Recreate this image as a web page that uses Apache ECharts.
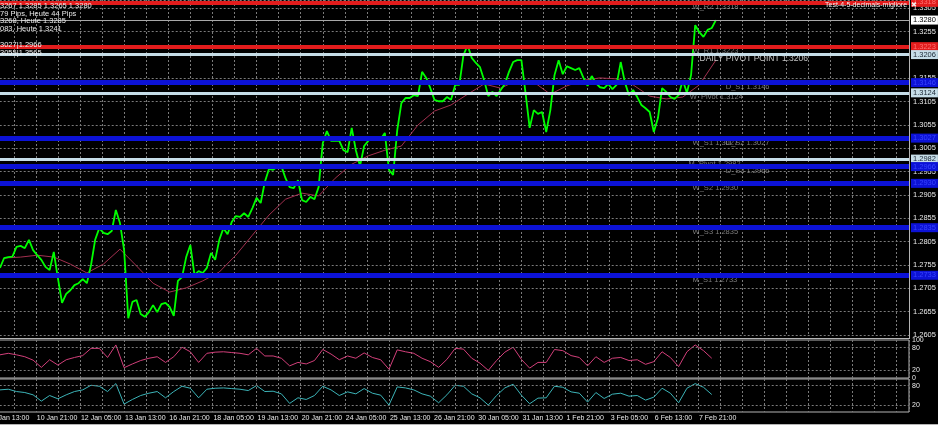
<!DOCTYPE html>
<html><head><meta charset="utf-8">
<script src="https://cdn.jsdelivr.net/npm/echarts@6/dist/echarts.min.js"></script>
<style>html,body{margin:0;padding:0;background:#000;}#c{width:938px;height:425px;}</style>
</head><body><div id="c"></div>
<script>
// ---------------- DATA ----------------
// hourly bars; bar 0 = 9 Jan 13:00
const timeLabels = ["9 Jan 13:00","10 Jan 21:00","12 Jan 05:00","13 Jan 13:00","16 Jan 21:00","18 Jan 05:00","19 Jan 13:00","20 Jan 21:00","24 Jan 05:00","25 Jan 13:00","26 Jan 21:00","30 Jan 05:00","31 Jan 13:00","1 Feb 21:00","3 Feb 05:00","6 Feb 13:00","7 Feb 21:00"];
const LABEL_EVERY = 32;
const BAR_MAX = 665;

// close prices, one every 3 bars starting at bar 6
const PRICE_FIRST_BAR = 6, PRICE_STEP = 3;
const closePrices = [
1.2749,1.2770,1.2772,1.2773,1.2794,1.2796,1.2791,1.2809,1.2787,1.2776,
1.2766,1.2751,1.2744,1.2783,1.2727,1.2674,1.2693,1.2701,1.2712,1.2716,
1.2725,1.2716,1.2755,1.2809,1.2834,1.2824,1.2821,1.2828,1.2873,1.2845,
1.2787,1.2641,1.2676,1.2680,1.2650,1.2644,1.2654,1.2669,1.2654,1.2671,
1.2674,1.2665,1.2646,1.2721,1.2729,1.2772,1.2798,1.2734,1.2742,1.2738,
1.2749,1.2781,1.2766,1.2809,1.2834,1.2821,1.2847,1.2860,1.2858,1.2866,
1.2858,1.2877,1.2899,1.2888,1.2933,1.2961,1.2959,1.2965,1.2967,1.2941,
1.2922,1.2920,1.2937,1.2894,1.2890,1.2901,1.2896,1.2922,1.3016,1.3042,
1.3021,1.3021,1.3021,1.3001,1.2997,1.3049,1.3001,1.2967,1.3010,1.3021,
1.3029,1.3025,1.3025,1.3038,1.2959,1.2948,1.3044,1.3102,1.3113,1.3113,
1.3119,1.3117,1.3169,1.3156,1.3134,1.3109,1.3106,1.3106,1.3115,1.3109,
1.3141,1.3141,1.3205,1.3226,1.3199,1.3188,1.3179,1.3151,1.3117,1.3126,
1.3117,1.3130,1.3143,1.3169,1.3190,1.3194,1.3194,1.3124,1.3049,1.3087,
1.3079,1.3083,1.3040,1.3087,1.3162,1.3194,1.3164,1.3181,1.3177,1.3173,
1.3177,1.3156,1.3139,1.3160,1.3145,1.3136,1.3134,1.3143,1.3132,1.3141,
1.3190,1.3147,1.3119,1.3130,1.3115,1.3098,1.3091,1.3083,1.3040,1.3070,
1.3134,1.3126,1.3115,1.3111,1.3119,1.3151,1.3124,1.3162,1.3269,1.3254,
1.3244,1.3259,1.3263,1.3280];

// moving average, one every 12 bars starting at bar 9
const MA_FIRST_BAR = 9, MA_STEP = 12;
const maValues = [
1.2770,1.2772,1.2776,1.2772,1.2757,1.2738,1.2757,1.2789,1.2753,1.2716,
1.2697,1.2706,1.2721,1.2740,1.2776,1.2819,1.2862,1.2896,1.2909,1.2903,
1.2941,1.2971,1.2989,1.3001,1.3010,1.3055,1.3085,1.3098,1.3121,1.3143,
1.3134,1.3151,1.3147,1.3121,1.3139,1.3151,1.3156,1.3154,1.3141,1.3117,
1.3111,1.3115,1.3141,1.3194];

// oscillators, one every 6 bars starting at bar 6
const OSC_FIRST_BAR = 6, OSC_STEP = 6;
const oscPink = [61,65,61,56,47,28,48,34,48,54,59,78,78,54,87,27,37,46,52,56,
41,56,81,69,41,65,68,69,67,65,61,78,58,58,52,32,41,37,46,75,
63,48,58,52,66,54,48,23,74,69,65,52,43,28,49,78,76,52,39,20,
46,68,81,49,26,41,41,75,72,59,54,32,56,41,52,54,46,48,36,43,
69,54,30,69,87,72,52];
const oscCyan = [67,69,62,59,52,33,50,40,52,62,67,81,78,62,86,24,38,50,57,62,
43,62,78,72,43,69,72,73,71,69,65,80,62,63,55,26,43,38,50,78,
67,50,61,55,71,57,51,21,76,73,67,55,48,28,52,81,78,55,43,21,
50,73,84,51,25,42,43,78,75,61,57,30,59,41,54,57,48,50,36,45,
72,57,28,72,86,75,53];
const oscLevels = [20, 80];
const oscTicks = [0, 20, 80, 100];

// horizontal levels
const levelPrices = [1.3318, 1.3280, 1.3223, 1.3206, 1.3146, 1.3124, 1.3027, 1.2982, 1.2966, 1.2930, 1.2835, 1.2733];
const levelKinds  = ['red','bid','red','pivot','blue','pivot','blue','pivot','blue','blue','blue','blue'];

// level text objects
const noteTexts  = ['W_R2 1.3318','W_R1 1.3223','DAILY PIVOT POINT 1.3206','D_S1 1.3146','W_Pivot 1.3124','W_S1 1.3027','D_S2 1.3027','M_Pivot 1.2982','D_S3 1.2966','W_S2 1.2930','W_S3 1.2835','M_S1 1.2733'];
const notePrices = [1.3318,1.3223,1.3206,1.3146,1.3124,1.3027,1.3027,1.2982,1.2966,1.2930,1.2835,1.2733];
const noteBars   = [508.5,508.5,513.5,532.5,506.5,508.5,532.5,505.5,532.5,508.5,508.5,508.5];

// price axis
const PRICE_BASE = 1.2605, PRICE_TICK_PIPS = 50, PRICE_TOP_PIPS = 718;

// ---------------- CHART ----------------
const FONT = 'Liberation Sans, Arial, sans-serif';
const toPips = p => +((p - PRICE_BASE) * 10000).toFixed(2);
const GRID_DASH = {color:'#7a7a7a', type:[2,2], width:1};
const kindStyle = {
  red:   {line:'#e21c1c', w:4, bg:'#e21c1c', fg:'#ff7070'},
  bid:   {line:'#a8a8a8', w:1, bg:'#ffffff', fg:'#000000'},
  pivot: {line:'#c6dde8', w:3, bg:'#c6dde8', fg:'#1a2633'},
  blue:  {line:'#0c12d6', w:5, bg:'#0c12d6', fg:'#3844ff'}
};

const priceData = closePrices.map((p,i)=>[PRICE_FIRST_BAR + i*PRICE_STEP, toPips(p)]);
const maData = maValues.map((p,i)=>[MA_FIRST_BAR + i*MA_STEP, toPips(p)]);
const pinkData = oscPink.map((v,i)=>[OSC_FIRST_BAR + i*OSC_STEP, v]);
const cyanData = oscCyan.map((v,i)=>[OSC_FIRST_BAR + i*OSC_STEP, v]);

const levelLines = levelPrices.map((p,i)=>{
  const s = kindStyle[levelKinds[i]];
  return {yAxis: toPips(p), lineStyle:{color:s.line, width:s.w, type:'solid'},
    label:{show:true, position:'end', distance:2, formatter:p.toFixed(4), backgroundColor:s.bg, color:s.fg,
      fontSize:7.5, fontFamily:FONT, padding:[1,2,0,2]}};
});
const noteData = noteTexts.map((t,i)=>{
  const big = t.indexOf('DAILY')===0;
  return {value:[noteBars[i], toPips(notePrices[i]), t],
    label: big ? {color:'#f0f0f0', fontSize:8.5, position:[0,0]} : undefined};
});

const xAxisBase = i => ({
  gridIndex:i, type:'value', min:0, max:BAR_MAX, interval:16,
  splitLine:{show:true, lineStyle:GRID_DASH},
  axisLine:{show:false}, axisTick:{show:false},
  axisLabel: i===2 ? {show:true, align:'left', margin:3, padding:[0,0,0,1], color:'#e8e8e8', fontSize:7, fontFamily:FONT,
      showMinLabel:true, showMaxLabel:false, hideOverlap:false,
      formatter:v=>{const r=Math.round(v); if(r%LABEL_EVERY!==0) return ''; const k=r/LABEL_EVERY; return k<timeLabels.length?timeLabels[k]:'';}}
    : {show:false}
});
const oscY = i => ({gridIndex:i, type:'value', position:'right', min:0, max:100, interval:20,
  splitLine:{show:false}, axisLine:{show:false}, axisTick:{show:false},
  axisLabel:{margin:3, color:'#e8e8e8', fontSize:7, fontFamily:FONT, formatter:v=>oscTicks.indexOf(Math.round(v))>=0?String(Math.round(v)):''}});
const oscMark = {silent:true, symbol:['none','none'], label:{show:false}, lineStyle:GRID_DASH, data:oscLevels.map(v=>({yAxis:v}))};

const gridCommon = {left:-8.3, right:29, containLabel:false, outerBoundsMode:'none'};
const option = {
  backgroundColor:'#000',
  animation:false,
  grid:[
    Object.assign({top:0, height:335, show:false}, gridCommon),
    Object.assign({top:340, height:38, show:true, borderColor:'#b4b4b4', borderWidth:1}, gridCommon),
    Object.assign({top:379, height:33, show:true, borderColor:'#b4b4b4', borderWidth:1}, gridCommon)
  ],
  xAxis:[xAxisBase(0), xAxisBase(1), xAxisBase(2)],
  yAxis:[
    {gridIndex:0, type:'value', position:'right', min:0, max:PRICE_TOP_PIPS, interval:PRICE_TICK_PIPS,
     splitLine:{show:true, lineStyle:GRID_DASH}, axisLine:{show:false}, axisTick:{show:false},
     axisLabel:{margin:4, color:'#e8e8e8', fontSize:7.5, fontFamily:FONT,
       formatter:v=>{const r=Math.round(v); if(r%PRICE_TICK_PIPS!==0||r<0||r>700) return ''; return (PRICE_BASE+r/10000).toFixed(4);}}},
    oscY(1), oscY(2)
  ],
  series:[
    {type:'line', name:'levels', xAxisIndex:0, yAxisIndex:0, data:maData, showSymbol:false, z:1,
     lineStyle:{opacity:0}, silent:true,
     markLine:{silent:true, symbol:['none','none'], data:levelLines}},
    {type:'line', name:'MA', xAxisIndex:0, yAxisIndex:0, data:maData, showSymbol:false, z:2,
     lineStyle:{color:'#a3304f', width:1}},
    {type:'line', name:'Close', xAxisIndex:0, yAxisIndex:0, data:priceData, showSymbol:false, z:3,
     lineStyle:{color:'#00ff00', width:1.8}},
    {type:'scatter', name:'notes', xAxisIndex:0, yAxisIndex:0, data:noteData, symbolSize:1, z:4,
     itemStyle:{color:'rgba(0,0,0,0)'},
     label:{show:true, position:[0,1], formatter:p=>p.data.value[2], color:'#9a9a9a', fontSize:7.5, fontFamily:FONT}},
    {type:'line', name:'osc1', xAxisIndex:1, yAxisIndex:1, data:pinkData, showSymbol:false,
     lineStyle:{color:'#d23f7a', width:1}, markLine:oscMark},
    {type:'line', name:'osc2', xAxisIndex:2, yAxisIndex:2, data:cyanData, showSymbol:false,
     lineStyle:{color:'#3cb4b8', width:1}, markLine:oscMark}
  ],
  graphic:[
    {type:'line', shape:{x1:0,y1:338.5,x2:910,y2:338.5}, style:{stroke:'#b4b4b4', lineWidth:1}, z:10},
    {type:'line', shape:{x1:909.5,y1:0,x2:909.5,y2:338}, style:{stroke:'#b4b4b4', lineWidth:1}, z:10},
    {type:'line', shape:{x1:0,y1:424.5,x2:938,y2:424.5}, style:{stroke:'#b4b4b4', lineWidth:1}, z:10},
    {type:'text', left:0, top:2, style:{text:'3267 1.3285 1.3265 1.3280', fill:'#e8e8e8', font:'7.5px '+FONT}, z:10},
    {type:'text', left:0, top:10, style:{text:'79 Pips, Heute 44 Pips', fill:'#e8e8e8', font:'7.5px '+FONT}, z:10},
    {type:'text', left:0, top:17, style:{text:'3268, Heute 1.3285', fill:'#e8e8e8', font:'7.5px '+FONT}, z:10},
    {type:'text', left:0, top:25, style:{text:'083, Heute 1.3241', fill:'#e8e8e8', font:'7.5px '+FONT}, z:10},
    {type:'text', left:0, top:41, style:{text:'3027|1.2966', fill:'#f0f0f0', font:'7.5px '+FONT}, z:10},
    {type:'text', left:0, top:49, style:{text:'3055|1.3565', fill:'#f0f0f0', font:'7.5px '+FONT}, z:10},
    {type:'text', left:825, top:2, style:{text:'Test-4-5-decimals-migliore  \u2716', fill:'#f0f0f0', font:'7px '+FONT}, z:10}
  ]
};
const chart = echarts.init(document.getElementById('c'), null, {renderer:'canvas'});
chart.setOption(option);
</script>
</body></html>
